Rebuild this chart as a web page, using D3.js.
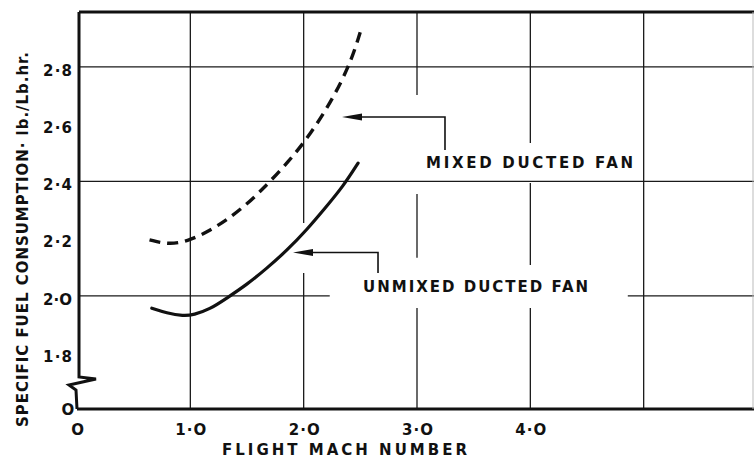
<!DOCTYPE html>
<html><head><meta charset="utf-8">
<script src="https://cdn.jsdelivr.net/npm/d3@7"></script>
<style>
html,body{margin:0;padding:0;background:#fff;}
svg{display:block;}
text{font-family:"DejaVu Sans",sans-serif;fill:#111;}
</style></head>
<body>
<svg id="chart" width="754" height="459"></svg>
<script>
// ---- data ----
const unmixedMach = [0.66, 0.79, 0.94, 1.03, 1.17, 1.32, 1.50, 1.67, 1.85, 2.03, 2.20, 2.35, 2.48];
const unmixedSFC  = [1.957, 1.940, 1.930, 1.934, 1.953, 1.992, 2.040, 2.095, 2.158, 2.232, 2.312, 2.384, 2.464];
const mixedMach   = [0.64, 0.82, 1.00, 1.17, 1.32, 1.47, 1.62, 1.87, 2.06, 2.26, 2.42, 2.50];
const mixedSFC    = [2.196, 2.178, 2.195, 2.228, 2.265, 2.311, 2.365, 2.470, 2.565, 2.690, 2.820, 2.923];
const xTicks = [0, 1, 2, 3, 4];
const xGrid = [1, 2, 3, 4, 5];
const yTicks = [1.8, 2.0, 2.2, 2.4, 2.6, 2.8];
const yGrid = [2.0, 2.4, 2.8];
const xTitle = "FLIGHT MACH NUMBER";
const yTitle = "SPECIFIC FUEL CONSUMPTION· lb./Lb.hr.";
const seriesLabels = ["MIXED DUCTED FAN", "UNMIXED DUCTED FAN"];

const svg = d3.select("#chart");
const W = 754, H = 459;
const x = d3.scaleLinear().domain([0, 6]).range([77, 757]);
const y = d3.scaleLinear().domain([1.605, 2.992]).range([409, 12]);
const xMax = 6, yBot = 1.605, yTop = 2.992;

const fmt = v => v === 0 ? "O" : d3.format(".1f")(v).replace(".", "·").replace(/0/g, "O");

// ---- gridlines with gaps (value-space segments) ----
const vSegs = {
  1: [[yBot, yTop]],
  2: [[yBot, 2.08], [2.255, yTop]],
  3: [[yBot, 1.958], [2.133, 2.356], [2.702, yTop]],
  4: [[yBot, 1.958], [2.108, 2.395], [2.534, yTop]],
  5: [[yBot, yTop]]
};
const hSegs = {
  2.0: [[0.02, 2.23], [4.86, xMax]],
  2.4: [[0.02, xMax]],
  2.8: [[0.02, xMax]]
};
const g = svg.append("g").attr("stroke", "#1a1a1a").attr("stroke-width", 1.3);
xGrid.forEach(v => (vSegs[v] || [[yBot, yTop]]).forEach(s => {
  g.append("line").attr("x1", x(v)).attr("x2", x(v)).attr("y1", y(s[0])).attr("y2", y(s[1]));
}));
yGrid.forEach(v => (hSegs[v] || [[0, xMax]]).forEach(s => {
  g.append("line").attr("x1", x(s[0])).attr("x2", x(s[1])).attr("y1", y(v)).attr("y2", y(v));
}));

// ---- frame: top, bottom, left with break ----
const frame = svg.append("g").attr("stroke", "#111").attr("fill", "none").attr("stroke-width", 3);
frame.append("line").attr("x1", 79).attr("x2", W).attr("y1", y(yTop)).attr("y2", y(yTop));
frame.append("line").attr("x1", 77).attr("x2", W).attr("y1", y(yBot)).attr("y2", y(yBot));
frame.append("line").attr("x1", 753).attr("x2", 753).attr("y1", y(yTop)).attr("y2", y(yBot))
  .attr("stroke-width", 1).attr("stroke", "#bbb");
frame.append("path").attr("stroke-linejoin", "miter")
  .attr("d", `M79,${y(yTop)} L79,377 L96,379 L69,385 L76,390 L77,${y(yBot)}`);

// ---- axes (labels only, via d3 axes) ----
const xAxis = d3.axisBottom(x).tickValues(xTicks).tickSize(0).tickPadding(0).tickFormat(fmt);
const xa = svg.append("g").attr("transform", `translate(0,${y(yBot)})`).call(xAxis);
xa.select(".domain").remove();
xa.selectAll("text").attr("y", 21).attr("dy", "0.35em")
  .attr("textLength", d => d === 0 ? null : 31).attr("lengthAdjust", "spacing")
  .style("font-size", "15px").style("font-weight", "bold").attr("fill", "#111");

const yAxis = d3.axisLeft(y).tickValues(yTicks).tickSize(0).tickPadding(0).tickFormat(fmt);
const ya = svg.append("g").attr("transform", `translate(72,0)`).call(yAxis);
ya.select(".domain").remove();
ya.selectAll("text").attr("x", 0).attr("dy", "0.55em")
  .attr("textLength", 29).attr("lengthAdjust", "spacing")
  .style("font-size", "15px").style("font-weight", "bold").attr("fill", "#111");
// broken-axis origin label
svg.append("text").attr("x", 68).attr("y", y(yBot) + 1).attr("dy", "0.35em").attr("text-anchor", "middle")
  .style("font-size", "15px").style("font-weight", "bold").text("O");

// ---- axis titles ----
svg.append("text").attr("x", 222).attr("y", 450).attr("dy", "0.36em")
  .attr("textLength", 245).attr("lengthAdjust", "spacing")
  .style("font-size", "15px").style("font-weight", "bold").text(xTitle);
svg.append("text").attr("transform", "translate(23,427) rotate(-90)").attr("dy", "0.36em")
  .attr("textLength", 375).attr("lengthAdjust", "spacing")
  .style("font-size", "15px").style("font-weight", "bold").text(yTitle);

// ---- curves ----
const line = d3.line().x(d => x(d[0])).y(d => y(d[1])).curve(d3.curveBasis);
svg.append("path").datum(mixedMach.map((m, i) => [m, mixedSFC[i]]))
  .attr("d", line).attr("fill", "none").attr("stroke", "#111").attr("stroke-width", 3.4)
  .attr("stroke-dasharray", "11,7");
svg.append("path").datum(unmixedMach.map((m, i) => [m, unmixedSFC[i]]))
  .attr("d", line).attr("fill", "none").attr("stroke", "#111").attr("stroke-width", 3.2)
  .attr("stroke-linecap", "round");

// ---- annotations ----
const annos = [
  {label: seriesLabels[0], tip: [2.338, 2.625], corner: [3.247, 2.625], foot: 2.51, lx: 3.08, ly: 2.465, len: 207},
  {label: seriesLabels[1], tip: [1.906, 2.152], corner: [2.656, 2.152], foot: 2.08, lx: 2.524, ly: 2.031, len: 225}
];
annos.forEach(a => {
  const tx = x(a.tip[0]), ty = y(a.tip[1]);
  svg.append("path").attr("fill", "none").attr("stroke", "#111").attr("stroke-width", 1.6)
    .attr("d", `M${tx + 14},${ty} L${x(a.corner[0])},${ty} L${x(a.corner[0])},${y(a.foot)}`);
  svg.append("path").attr("fill", "#111")
    .attr("d", `M${tx},${ty} L${tx + 20},${ty - 3.5} L${tx + 20},${ty + 3.5} Z`);
  svg.append("text").attr("x", x(a.lx)).attr("y", y(a.ly)).attr("dy", "0.36em")
    .attr("textLength", a.len).attr("lengthAdjust", "spacing")
    .style("font-size", "15px").style("font-weight", "bold").text(a.label);
});
</script>
</body></html>
